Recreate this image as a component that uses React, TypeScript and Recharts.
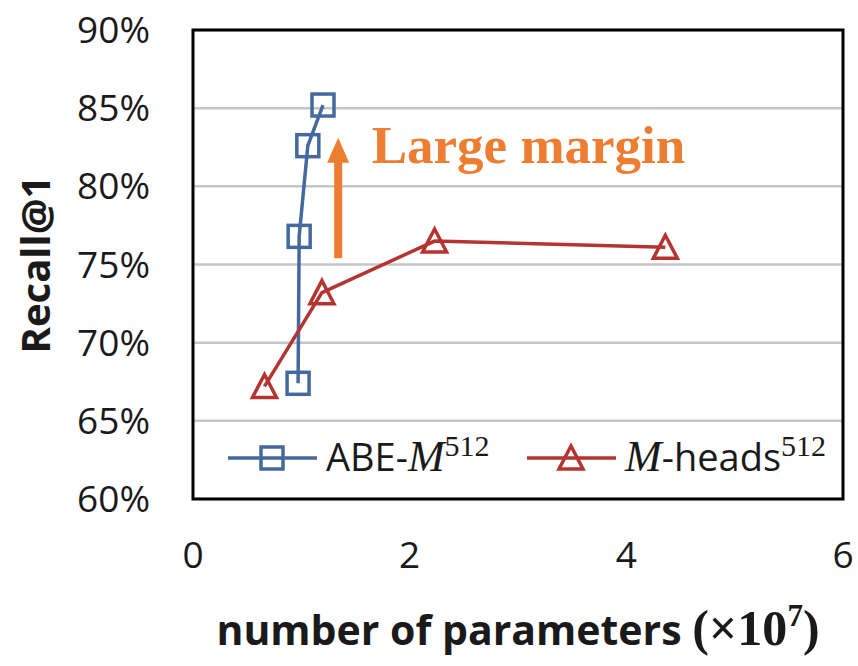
import React from 'react';
import {
  LineChart,
  Line,
  XAxis,
  YAxis,
  CartesianGrid,
  ReferenceArea,
  ReferenceLine,
  ReferenceDot,
  Legend,
} from 'recharts';

// values (x in units of 1e7 params, y in %)
const abeParams = [0.97, 0.98, 1.06, 1.2];
const abeRecall = [67.4, 76.8, 82.6, 85.2];
const headsParams = [0.66, 1.19, 2.23, 4.36];
const headsRecall = [67.2, 73.2, 76.5, 76.1];

const xTicks = [0, 2, 4, 6];
const yTicks = [60, 65, 70, 75, 80, 85, 90];

// "Large margin" annotation
const arrowX = 1.34;
const arrowFrom = 75.4;
const arrowTo = 83.1;
const noteText = 'Large margin';
const noteX = 1.65;
const noteY = 81.5;

const legendPrefix = ['ABE-', ''];
const legendItalic = ['M', 'M'];
const legendSuffix = ['', '-heads'];
const legendSup = ['512', '512'];

const BLUE = '#45699f';
const RED = '#b43432';
const ORANGE = '#ed7d31';
const SANS = '"Open Sans", sans-serif';
const SERIF = '"Liberation Serif", serif';

const abeData = abeParams.map((x, i) => ({ x, y: abeRecall[i] }));
const headsData = headsParams.map((x, i) => ({ x, y: headsRecall[i] }));

const SquareDot = (p: any) => (
  <rect
    key={`sq-${p.index}`}
    x={p.cx - 11}
    y={p.cy - 11}
    width={22}
    height={22}
    fill="none"
    stroke={BLUE}
    strokeWidth={3.5}
  />
);

const TriangleDot = (p: any) => (
  <polygon
    key={`tri-${p.index}`}
    points={`${p.cx},${p.cy - 12} ${p.cx + 12},${p.cy + 11} ${p.cx - 12},${p.cy + 11}`}
    fill="none"
    stroke={RED}
    strokeWidth={3.5}
  />
);

const Arrow = (p: any) => {
  const head = 25;
  return (
    <g>
      <line x1={p.x1} y1={p.y1} x2={p.x2} y2={p.y2 + head - 2} stroke={ORANGE} strokeWidth={8} />
      <polygon
        points={`${p.x2},${p.y2} ${p.x2 + 11},${p.y2 + head} ${p.x2 - 11},${p.y2 + head}`}
        fill={ORANGE}
      />
    </g>
  );
};

const renderLegend = () => {
  const colors = [BLUE, RED];
  return (
    <svg width={620} height={60}>
      {colors.map((c, i) => {
        const ox = i * 299;
        return (
          <g key={i}>
            <line x1={ox + 8} y1={33} x2={ox + 97} y2={33} stroke={c} strokeWidth={3.5} />
            {i === 0 ? (
              <SquareDot cx={ox + 52} cy={33} index={0} />
            ) : (
              <TriangleDot cx={ox + 52} cy={33} index={0} />
            )}
            <text x={ox + 106} y={46} fill="#1a1a1a" fontSize={38} fontFamily={SANS}>
              {legendPrefix[i]}
              <tspan fontFamily={SERIF} fontStyle="italic" fontSize={44}>
                {legendItalic[i]}
              </tspan>
              {legendSuffix[i]}
              <tspan fontFamily={SERIF} fontSize={30} dy={-15}>
                {legendSup[i]}
              </tspan>
            </text>
          </g>
        );
      })}
    </svg>
  );
};

export default function App() {
  return (
    <div style={{ position: 'absolute', left: 0, top: 0, background: '#fff' }}>
      <LineChart width={858} height={666} margin={{ top: 30, right: 15, left: 0, bottom: 0 }}>
        <CartesianGrid vertical={false} stroke="#c6c6c6" strokeWidth={2.5} />
        <XAxis
          type="number"
          dataKey="x"
          domain={[0, 6]}
          ticks={xTicks}
          height={167}
          axisLine={false}
          tickLine={false}
          tickSize={0}
          tickMargin={43}
          tick={{ fontSize: 37, fontFamily: SANS, fill: '#1a1a1a' }}
          label={{
            content: (p: any) => {
              const vb = p.viewBox;
              return (
                <text
                  x={vb.x + vb.width / 2}
                  y={vb.y + 146}
                  textAnchor="middle"
                  fontFamily={SANS}
                  fontWeight="bold"
                  fontSize={41}
                  fill="#1a1a1a"
                >
                  number of parameters{' '}
                  <tspan fontFamily={SERIF} fontWeight="bold" fontSize={50}>
                    (×10
                  </tspan>
                  <tspan fontFamily={SERIF} fontWeight="bold" fontSize={31} dy={-19}>
                    7
                  </tspan>
                  <tspan fontFamily={SERIF} fontWeight="bold" fontSize={50} dy={19}>
                    )
                  </tspan>
                </text>
              );
            },
          }}
        />
        <YAxis
          type="number"
          domain={[60, 90]}
          ticks={yTicks}
          width={193}
          axisLine={false}
          tickLine={false}
          tickSize={0}
          tickMargin={43}
          tickFormatter={(v) => `${v}%`}
          tick={{ fontSize: 37, fontFamily: SANS, fill: '#1a1a1a' }}
          label={{
            content: (p: any) => {
              const vb = p.viewBox;
              const cx = vb.x + 34;
              const cy = vb.y + vb.height / 2;
              return (
                <text
                  x={cx}
                  y={cy}
                  transform={`rotate(-90 ${cx} ${cy})`}
                  textAnchor="middle"
                  dominantBaseline="central"
                  fontFamily={SANS}
                  fontWeight="bold"
                  fontSize={40}
                  fill="#1a1a1a"
                >
                  Recall@1
                </text>
              );
            },
          }}
        />
        <Legend
          layout="horizontal"
          verticalAlign="middle"
          align="center"
          content={renderLegend}
          wrapperStyle={{ position: 'absolute', left: 220, top: 425, width: 620, height: 60 }}
        />
        <ReferenceLine
          segment={[
            { x: arrowX, y: arrowFrom },
            { x: arrowX, y: arrowTo },
          ]}
          shape={Arrow}
        />
        <ReferenceDot
          x={noteX}
          y={noteY}
          shape={(p: any) => (
            <text
              x={p.cx}
              y={p.cy}
              fill={ORANGE}
              fontFamily={SERIF}
              fontWeight="bold"
              fontSize={53}
            >
              {noteText}
            </text>
          )}
        />
        <Line
          data={abeData}
          dataKey="y"
          stroke={BLUE}
          strokeWidth={3.5}
          dot={(p: any) => <SquareDot {...p} />}
          isAnimationActive={false}
        />
        <Line
          data={headsData}
          dataKey="y"
          stroke={RED}
          strokeWidth={3.5}
          dot={(p: any) => <TriangleDot {...p} />}
          isAnimationActive={false}
        />
        <ReferenceArea x1={0} x2={6} y1={60} y2={90} fill="none" stroke="#000" strokeWidth={3} />
      </LineChart>
    </div>
  );
}
